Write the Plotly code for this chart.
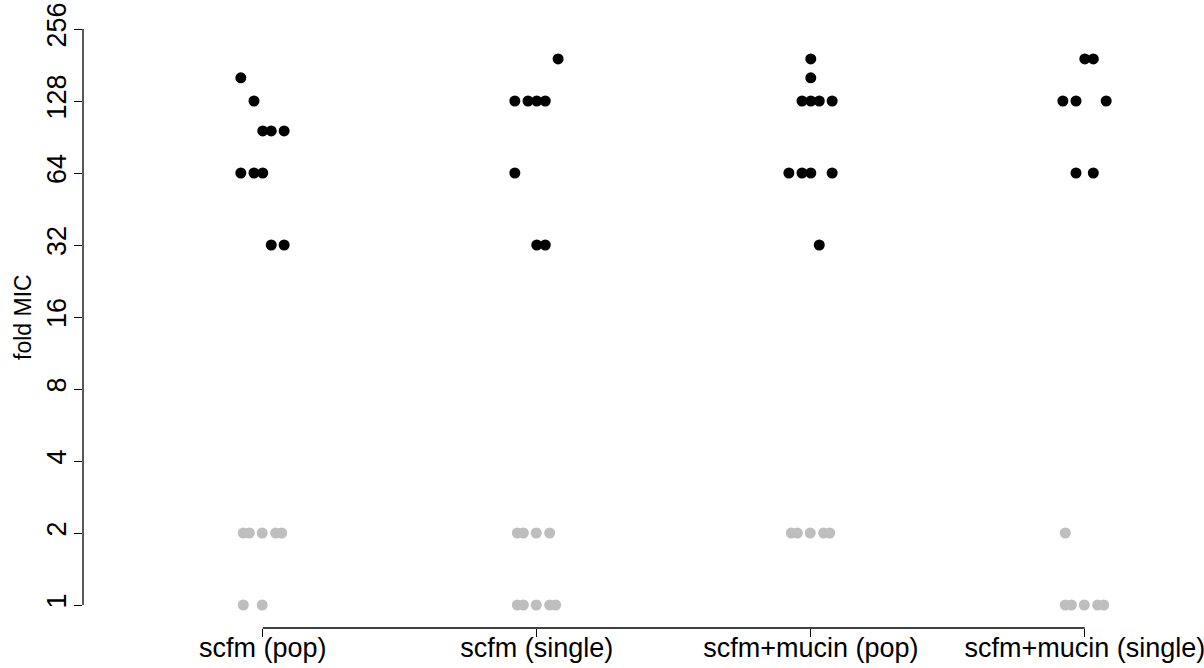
import plotly.graph_objects as go

# ---- data ----
categories = ["scfm (pop)", "scfm (single)", "scfm+mucin (pop)", "scfm+mucin (single)"]

# evolved (black) fold-MIC values and the replicate slot of each point
black_values = [
    [160, 128, 96, 96, 96, 64, 64, 64, 32, 32],
    [192, 128, 128, 128, 128, 64, 32, 32],
    [192, 160, 128, 128, 128, 128, 64, 64, 64, 64, 32],
    [192, 192, 128, 128, 128, 64, 64],
]
black_slots = [
    [0, 1, 2, 3, 4, 0, 1, 2, 3, 4],
    [4, 0, 1, 2, 3, 0, 2, 3],
    [2, 2, 1, 2, 3, 4, 0, 1, 2, 4, 3],
    [2, 3, 0, 1, 4, 1, 3],
]

# control (grey) fold-MIC values and slots
grey_values = [
    [2, 2, 2, 2, 2, 1, 1],
    [2, 2, 2, 2, 1, 1, 1, 1, 1],
    [2, 2, 2, 2, 2],
    [2, 1, 1, 1, 1, 1],
]
grey_slots = [
    [0, 1, 2, 3, 4, 0, 2],
    [0, 1, 2, 3, 0, 1, 2, 3, 4],
    [0, 1, 2, 3, 4],
    [0, 0, 1, 2, 3, 4],
]

y_ticks = [1, 2, 4, 8, 16, 32, 64, 128, 256]

# ---- styling / dodge offsets (category units) ----
black_dodge = [-0.080, -0.032, 0.0, 0.031, 0.078]
grey_dodge = [-0.071, -0.049, -0.002, 0.047, 0.069]
FONT = "Liberation Sans, Arial, Helvetica, sans-serif"
TICK_FS = 27
TITLE_FS = 23


def build(values, slots, dodge):
    xs, ys = [], []
    for ci, (vals, sl) in enumerate(zip(values, slots)):
        for v, s in zip(vals, sl):
            xs.append(ci + 1 + dodge[s])
            ys.append(v)
    return xs, ys


fig = go.Figure()
gx, gy = build(grey_values, grey_slots, grey_dodge)
bx, by = build(black_values, black_slots, black_dodge)
fig.add_trace(go.Scatter(x=gx, y=gy, mode="markers",
                         marker=dict(color="#BEBEBE", size=11, line=dict(width=0)),
                         showlegend=False, cliponaxis=False))
fig.add_trace(go.Scatter(x=bx, y=by, mode="markers",
                         marker=dict(color="#000000", size=11, line=dict(width=0)),
                         showlegend=False, cliponaxis=False))

n = len(categories)
fig.update_layout(
    width=1204, height=668,
    margin=dict(l=83, r=0, t=6, b=40),
    paper_bgcolor="white", plot_bgcolor="white",
    font=dict(family=FONT, size=TICK_FS, color="black"),
    xaxis=dict(
        range=[0.344, 4.435], tickmode="array",
        tickvals=list(range(1, n + 1)), ticktext=categories,
        ticks="outside", ticklen=8, tickwidth=1.3, tickcolor="black",
        ticklabelstandoff=-12, ticklabeloverflow="allow",
        showline=False, showgrid=False, zeroline=False,
        tickfont=dict(family=FONT, size=TICK_FS, color="black"),
    ),
    yaxis=dict(
        type="log", range=[-0.0961, 2.5044], tickmode="array",
        tickvals=y_ticks, ticktext=[str(v) for v in y_ticks],
        ticks="outside", ticklen=8, tickwidth=1.3, tickcolor="black",
        tickangle=-90, ticklabelstandoff=-3, ticklabeloverflow="allow",
        showline=False, showgrid=False, zeroline=False,
        tickfont=dict(family=FONT, size=TICK_FS, color="black"),
    ),
    shapes=[
        dict(type="line", xref="paper", yref="y", x0=0, x1=0,
             y0=y_ticks[0], y1=y_ticks[-1], line=dict(color="black", width=1.3)),
        dict(type="line", xref="x", yref="paper", x0=1, x1=n,
             y0=0, y1=0, line=dict(color="black", width=1.3)),
    ],
    annotations=[
        dict(text="fold MIC", textangle=-90, xref="paper", yref="paper",
             x=(23 - 83) / (1204 - 83), y=0.5, xanchor="center", yanchor="middle",
             showarrow=False, font=dict(family=FONT, size=TITLE_FS, color="black")),
    ],
)

fig.write_html("out.html", config={"displayModeBar": False},
               post_script="document.body.style.margin='0';document.body.style.overflow='hidden';")
